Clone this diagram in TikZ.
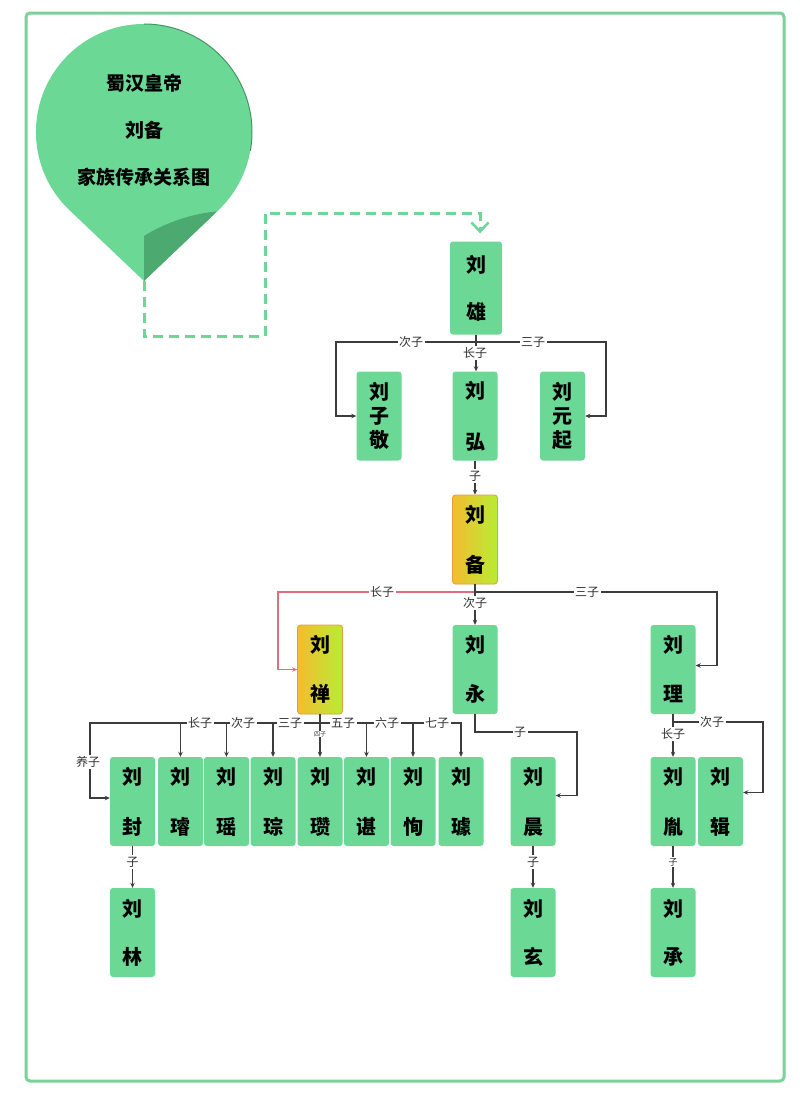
\documentclass[tikz,border=0pt]{standalone}
\usepackage{fontspec}
\setmainfont{Noto Sans CJK SC}
\usetikzlibrary{arrows.meta,calc}
\definecolor{boxg}{RGB}{108,216,150}
\definecolor{foldg}{RGB}{76,170,112}
\definecolor{edgeg}{RGB}{70,150,100}
\definecolor{borderg}{RGB}{122,210,152}
\definecolor{dashg}{RGB}{110,214,150}
\definecolor{goldl}{RGB}{244,188,48}
\definecolor{goldr}{RGB}{184,236,52}
\definecolor{goldb}{RGB}{226,160,60}
\definecolor{linec}{RGB}{60,60,60}
\definecolor{redc}{RGB}{222,110,128}
\definecolor{labc}{RGB}{50,50,50}
\begin{document}
\begin{tikzpicture}[x=1pt,y=-1pt,
  person/.style={rectangle, rounded corners=3pt, fill=boxg, minimum width=45pt,
    minimum height=89pt, inner sep=0pt, align=center,
    font=\bfseries\fontsize{20}{20}\selectfont},
  gold/.style={person, draw=goldb, line width=0.8pt, left color=goldl, right color=goldr},
  conn/.style={draw=linec, line width=1.2pt, -{Stealth[length=5pt,width=4.5pt]}},
  lab/.style={fill=white, inner sep=1.5pt, font=\fontsize{12}{12}\selectfont, text=labc},
  tinylab/.style={fill=white, inner sep=0.5pt, font=\fontsize{6}{6}\selectfont, text=labc},
  dashline/.style={draw=dashg, line width=3pt, dash pattern=on 10pt off 6pt,
    -{Straight Barb[length=9pt,width=17pt,line width=2.5pt]}},
  title/.style={font=\bfseries\fontsize{19}{19}\selectfont}
]
\useasboundingbox (0,0) rectangle (800,1101);
\fill[white] (0,0) rectangle (800,1101);
% outer frame
\draw[borderg, line width=3pt, rounded corners=4pt] (26,13) rectangle (784,1081);

% balloon
\coordinate (tip) at (144,281);
\fill[boxg] (tip) -- (69.6,210.3) arc[start angle=226.5, end angle=-46.5, radius=108pt] -- cycle;
\fill[foldg] (tip) -- (144,236) .. controls (166,222) and (195,213) .. (217,211.5) -- cycle;
\draw[edgeg, line width=1pt] (144,24) arc[start angle=90, end angle=-10, radius=108pt];
\node[title] (t1) at (144,83) {蜀汉皇帝};
\node[title] (t2) at (144,130) {刘备};
\node[title] (t3) at (144,177) {家族传承关系图};

% persons
\node[person, minimum width=52pt, minimum height=93pt] (xiong) at (476,288) {刘\\[27pt]雄};
\node[person] (zijing) at (379,416) {刘\\[4pt]子\\[4pt]敬};
\node[person] (hong) at (475,416) {刘\\[31pt]弘};
\node[person] (yuanqi) at (562.5,416) {刘\\[4pt]元\\[4pt]起};
\node[gold] (bei) at (475,539.5) {刘\\[30pt]备};
\node[gold] (shan) at (320,669.5) {刘\\[29pt]禅};
\node[person] (yong) at (475,669.5) {刘\\[29pt]永};
\node[person] (li) at (673,669.5) {刘\\[29pt]理};

\begin{scope}[every node/.append style={minimum width=44pt}]
\node[person] (feng) at (132.5,801.5) {刘\\[30pt]封};
\node[person] (xuan) at (180.5,801.5) {刘\\[30pt]璿};
\node[person] (yao) at (226.5,801.5) {刘\\[30pt]瑶};
\node[person] (cong) at (273,801.5) {刘\\[30pt]琮};
\node[person] (zan) at (320,801.5) {刘\\[30pt]瓒};
\node[person] (chenb) at (366.5,801.5) {刘\\[30pt]谌};
\node[person] (xun) at (413,801.5) {刘\\[30pt]恂};
\node[person] (qu) at (461,801.5) {刘\\[30pt]璩};
\node[person] (chen) at (533,801.5) {刘\\[30pt]晨};
\node[person] (yin) at (673,801.5) {刘\\[30pt]胤};
\node[person] (ji) at (720.5,801.5) {刘\\[30pt]辑};
\node[person] (lin) at (132.5,932.5) {刘\\[28pt]林};
\node[person] (xuanb) at (533,932.5) {刘\\[28pt]玄};
\node[person] (cheng) at (673,932.5) {刘\\[28pt]承};
\end{scope}

% dashed link
\coordinate (dend) at (480,213);
\draw[dashline, shorten >=8pt] (tip) |- (265,336) -- (265,213) -- (dend) -- (dend |- xiong.north);

% Liu Xiong children
\draw[conn] (xiong.south) |- (336,342) |- (zijing.west);
\draw[conn] (xiong.south) |- (606,342) |- (yuanqi.east);
\draw[conn] (xiong.south) -- (xiong.south |- hong.north);
\node[lab] at (411,342) {次子};
\node[lab] at (533,342) {三子};
\node[lab] at (475,353) {长子};

% Hong -> Bei
\draw[conn] (hong) -- (bei);
\node[lab] at (475,476) {子};

% Bei children
\draw[conn, draw=redc] (bei.south) |- (278,592) |- (shan.west);
\draw[conn] (bei.south) |- (717,592) |- ($(li.east)+(0,-4)$);
\draw[conn] (bei) -- (yong);
\node[lab] at (382,592) {长子};
\node[lab] at (587,592) {三子};
\node[lab] at (475,603) {次子};

% Shan children
\coordinate (bus) at (320,723);
\draw[conn] (shan.south) -- (bus) -| (90,798) -- (feng.west |- 0,798);
\foreach \n in {xuan,yao,cong,chenb,xun,qu}{
  \draw[conn] (shan.south) -- (bus) -| (\n.north);
}
\draw[conn] (shan) -- (zan);
\node[lab] at (200,723) {长子};
\node[lab] at (243,723) {次子};
\node[lab] at (290,723) {三子};
\node[lab] at (343,723) {五子};
\node[lab] at (387,723) {六子};
\node[lab] at (437,723) {七子};
\node[tinylab] at (320,734) {四子};
\node[lab] at (88,762) {养子};

% Yong -> Chen
\draw[conn] (yong.south) |- (577,732) |- ($(chen.east)+(0,-6)$);
\node[lab] at (520,732) {子};

% Li children
\draw[conn] (li.south) |- (763,722) |- ($(ji.east)+(0,-9)$);
\draw[conn] (li) -- (yin);
\node[lab] at (712,722) {次子};
\node[lab] at (673,734) {长子};

% generation 5
\draw[conn] (feng) -- (lin);
\draw[conn] (chen) -- (xuanb);
\draw[conn] (yin) -- (cheng);
\node[lab] at (132.5,862) {子};
\node[lab] at (533,862) {子};
\node[lab, font=\fontsize{9}{9}\selectfont] at (673,862) {子};
\end{tikzpicture}
\end{document}
